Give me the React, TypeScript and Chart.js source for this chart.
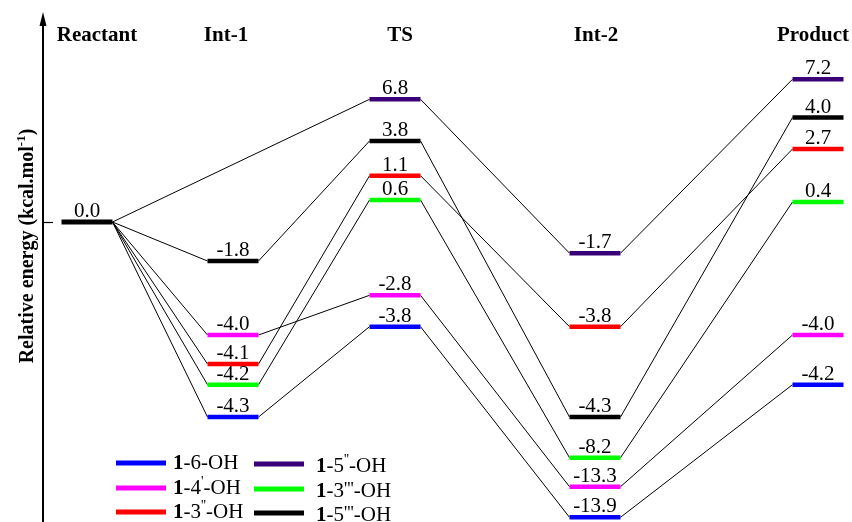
import React, { useEffect, useRef } from 'react';
import { Chart, LinearScale, registerables } from 'chart.js';

// ---------------- data ----------------
const STAGES = ['Reactant', 'Int-1', 'TS', 'Int-2', 'Product'];
const SERIES = ['1-6-OH', '1-4′-OH', '1-3″-OH', '1-5″-OH', '1-3‴-OH', '1-5‴-OH'];
const REACTANT_ENERGY = 0.0;
const E_6_OH = [0.0, -4.3, -3.8, -13.9, -4.2];
const E_4P_OH = [0.0, -4.0, -2.8, -13.3, -4.0];
const E_3PP_OH = [0.0, -4.1, 1.1, -3.8, 2.7];
const E_5PP_OH = [0.0, null, 6.8, -1.7, 7.2];
const E_3PPP_OH = [0.0, -4.2, 0.6, -8.2, 0.4];
const E_5PPP_OH = [0.0, -1.8, 3.8, -4.3, 4.0];
const ENERGIES: (number | null)[][] = [E_6_OH, E_4P_OH, E_3PP_OH, E_5PP_OH, E_3PPP_OH, E_5PPP_OH];

// ---------------- styles / layout ----------------
const COLORS = ['#0000ff', '#ff00ff', '#ff0000', '#3a0078', '#00ff00', '#000000'];
const STAGE_POS = [0, 14.6, 30.8, 50.8, 73.1];
const STAGE_LABEL_SHIFT = [10, -7, 5, 1, -5]; // px
const LEVEL_HALF = 2.55;
// schematic (non-linear) energy axis: energy -> drawn level
const Y_BREAK_ENERGY = [-13.9, -13.3, -8.2, -4.3, -4.2, -4.1, -4.0, -3.8, -2.8, -1.8, -1.7, 0, 0.4, 0.6, 1.1, 2.7, 3.8, 4.0, 6.8, 7.2];
const Y_BREAK_LEVEL = [-29.53, -26.47, -23.57, -19.5, -16.27, -14.2, -11.3, -10.47, -7.33, -3.9, -3.12, 0, 2.0, 2.2, 4.63, 7.3, 8.1, 10.45, 12.27, 14.27];
const LEVEL_MIN = -29.9;
const LEVEL_MAX = 20.9;

const SERIF = "'Liberation Serif', 'Times New Roman', serif";

function interp(v: number, xs: number[], ys: number[]) {
  const n = xs.length;
  if (v <= xs[0]) return ys[0] + (v - xs[0]) * (ys[1] - ys[0]) / (xs[1] - xs[0]);
  if (v >= xs[n - 1]) return ys[n - 1] + (v - xs[n - 1]) * (ys[n - 1] - ys[n - 2]) / (xs[n - 1] - xs[n - 2]);
  for (let i = 0; i < n - 1; i++) {
    if (v <= xs[i + 1]) {
      const t = (v - xs[i]) / (xs[i + 1] - xs[i]);
      return ys[i] + t * (ys[i + 1] - ys[i]);
    }
  }
  return ys[n - 1];
}

class SchematicScale extends LinearScale {
  static id = 'schematic';
  static defaults = {};
  getPixelForValue(value: any) {
    if (value === null || value === undefined || isNaN(value)) return NaN;
    const lvl = interp(value, Y_BREAK_ENERGY, Y_BREAK_LEVEL);
    return (this as any).getPixelForDecimal((lvl - LEVEL_MIN) / (LEVEL_MAX - LEVEL_MIN));
  }
  getValueForPixel(pixel: number) {
    const lvl = LEVEL_MIN + (this as any).getDecimalForPixel(pixel) * (LEVEL_MAX - LEVEL_MIN);
    return interp(lvl, Y_BREAK_LEVEL, Y_BREAK_ENERGY);
  }
}

Chart.register(...registerables, SchematicScale as any);

function levelPoints(vals: (number | null)[]) {
  const pts: any[] = [];
  vals.forEach((v, i) => {
    if (i === 0 || v === null) return;
    pts.push({ x: STAGE_POS[i] - LEVEL_HALF, y: v });
    pts.push({ x: STAGE_POS[i] + LEVEL_HALF, y: v });
    pts.push({ x: STAGE_POS[i] + LEVEL_HALF, y: null });
  });
  return pts;
}

function connectorPoints(vals: (number | null)[]) {
  const pts: any[] = [];
  let prev = -1;
  vals.forEach((v, i) => {
    if (v === null) return;
    if (prev >= 0) {
      pts.push({ x: STAGE_POS[prev] + LEVEL_HALF, y: vals[prev] });
      pts.push({ x: STAGE_POS[i] - LEVEL_HALF, y: v });
      pts.push({ x: STAGE_POS[i] - LEVEL_HALF, y: null });
    }
    prev = i;
  });
  return pts;
}

// draw "1-4′-OH" style labels: bold "1", primes as superscripts
function drawName(ctx: CanvasRenderingContext2D, name: string, x: number, y: number) {
  const m = name.match(/^(\d)(-\d)([′″‴]?)(-OH)$/);
  if (!m) return;
  const parts: { t: string; font: string; dy: number }[] = [];
  parts.push({ t: m[1], font: `bold 21px ${SERIF}`, dy: 0 });
  parts.push({ t: m[2], font: `21px ${SERIF}`, dy: 0 });
  if (m[3] === '′') parts.push({ t: "'", font: `14px ${SERIF}`, dy: -8 });
  if (m[3] === '″') parts.push({ t: "''", font: `14px ${SERIF}`, dy: -8 });
  if (m[3] === '‴') parts.push({ t: "'''", font: `18px ${SERIF}`, dy: -2 });
  parts.push({ t: m[4], font: `21px ${SERIF}`, dy: 0 });
  let cx = x;
  ctx.textAlign = 'left';
  ctx.textBaseline = 'alphabetic';
  for (const p of parts) {
    ctx.font = p.font;
    ctx.fillText(p.t, cx, y + p.dy);
    cx += ctx.measureText(p.t).width;
  }
}

const decorPlugin = {
  id: 'decor',
  afterDraw(chart: any) {
    const ctx: CanvasRenderingContext2D = chart.ctx;
    const xs = chart.scales.x;
    const ys = chart.scales.y;
    const area = chart.chartArea;
    ctx.save();
    ctx.fillStyle = '#000';
    ctx.strokeStyle = '#000';

    // y axis with arrow
    const ax = area.left;
    ctx.lineWidth = 2;
    ctx.beginPath();
    ctx.moveTo(ax, chart.height);
    ctx.lineTo(ax, area.top + 10);
    ctx.stroke();
    ctx.beginPath();
    ctx.moveTo(ax, area.top - 1);
    ctx.lineTo(ax - 3.5, area.top + 13);
    ctx.lineTo(ax + 3.5, area.top + 13);
    ctx.closePath();
    ctx.fill();
    // tick at zero
    const y0 = Math.round(ys.getPixelForValue(REACTANT_ENERGY)) + 0.5;
    ctx.lineWidth = 1.2;
    ctx.beginPath();
    ctx.moveTo(ax + 1, y0);
    ctx.lineTo(ax + 10, y0);
    ctx.stroke();

    // y title
    ctx.save();
    ctx.translate(27, 246);
    ctx.rotate(-Math.PI / 2);
    const main = 'Relative energy (kcal.mol';
    const sup = '-1';
    const close = ')';
    const big = `bold 20px ${SERIF}`;
    const small = `bold 13px ${SERIF}`;
    ctx.font = big;
    const w1 = ctx.measureText(main).width;
    const w3 = ctx.measureText(close).width;
    ctx.font = small;
    const w2 = ctx.measureText(sup).width;
    let tx = -(w1 + w2 + w3) / 2;
    ctx.textBaseline = 'alphabetic';
    ctx.textAlign = 'left';
    ctx.font = big;
    ctx.fillText(main, tx, 6);
    tx += w1;
    ctx.font = small;
    ctx.fillText(sup, tx, -2);
    tx += w2;
    ctx.font = big;
    ctx.fillText(close, tx, 6);
    ctx.restore();

    // stage labels
    ctx.font = `bold 21px ${SERIF}`;
    ctx.textAlign = 'center';
    ctx.textBaseline = 'alphabetic';
    STAGES.forEach((s, i) => {
      ctx.fillText(s, xs.getPixelForValue(STAGE_POS[i]) + STAGE_LABEL_SHIFT[i], 41);
    });

    // energy labels
    ctx.font = `21px ${SERIF}`;
    ctx.fillText(REACTANT_ENERGY.toFixed(1), xs.getPixelForValue(STAGE_POS[0]), ys.getPixelForValue(REACTANT_ENERGY) - 5);
    ENERGIES.forEach((vals) => {
      vals.forEach((v, i) => {
        if (i === 0 || v === null) return;
        ctx.fillText(v.toFixed(1), xs.getPixelForValue(STAGE_POS[i]), ys.getPixelForValue(v) - 5);
      });
    });

    // legend
    const cols = [
      { sx: 116, tx: 173, dy: 0 },
      { sx: 254, tx: 316, dy: 1 },
    ];
    const rows = [463, 488, 512];
    SERIES.forEach((name, i) => {
      const c = cols[Math.floor(i / 3)];
      const ry = rows[i % 3] + c.dy;
      ctx.fillStyle = COLORS[i];
      ctx.fillRect(c.sx, ry - 2.5, 50, 5);
      ctx.fillStyle = '#000';
      drawName(ctx, name, c.tx, ry + 6 + c.dy * 2);
    });
    ctx.restore();
  },
};

export default function App() {
  const ref = useRef<HTMLCanvasElement | null>(null);
  useEffect(() => {
    if (!ref.current) return;
    const datasets: any[] = [];
    ENERGIES.forEach((vals, i) => {
      datasets.push({
        label: SERIES[i] + ' path',
        data: connectorPoints(vals),
        borderColor: '#000',
        borderWidth: 1,
        pointRadius: 0,
        spanGaps: false,
        order: 10,
      });
    });
    ENERGIES.forEach((vals, i) => {
      datasets.push({
        label: SERIES[i],
        data: levelPoints(vals),
        borderColor: COLORS[i],
        borderWidth: 4.5,
        borderCapStyle: 'butt',
        pointRadius: 0,
        spanGaps: false,
        order: 1,
      });
    });
    datasets.push({
      label: 'Reactant',
      data: [
        { x: STAGE_POS[0] - LEVEL_HALF, y: REACTANT_ENERGY },
        { x: STAGE_POS[0] + LEVEL_HALF, y: REACTANT_ENERGY },
      ],
      borderColor: '#000',
      borderWidth: 5,
      borderCapStyle: 'butt',
      pointRadius: 0,
      order: 0,
    });

    const chart = new Chart(ref.current, {
      type: 'line',
      data: { datasets },
      options: {
        responsive: false,
        animation: false,
        events: [],
        layout: { padding: { left: 43, right: 4, top: 13, bottom: 1 } },
        elements: { line: { tension: 0 } },
        plugins: { legend: { display: false }, tooltip: { enabled: false } },
        scales: {
          x: { type: 'linear', display: false, min: -4.4, max: 76.1 },
          y: { type: 'schematic' as any, display: false, min: -14, max: 7.5 },
        },
      },
      plugins: [decorPlugin],
    });
    return () => chart.destroy();
  }, []);
  return (
    <div style={{ position: 'fixed', left: 0, top: 0, width: 852, height: 522, background: '#fff' }}>
      <canvas ref={ref} width={852} height={522} style={{ display: 'block' }} />
    </div>
  );
}
